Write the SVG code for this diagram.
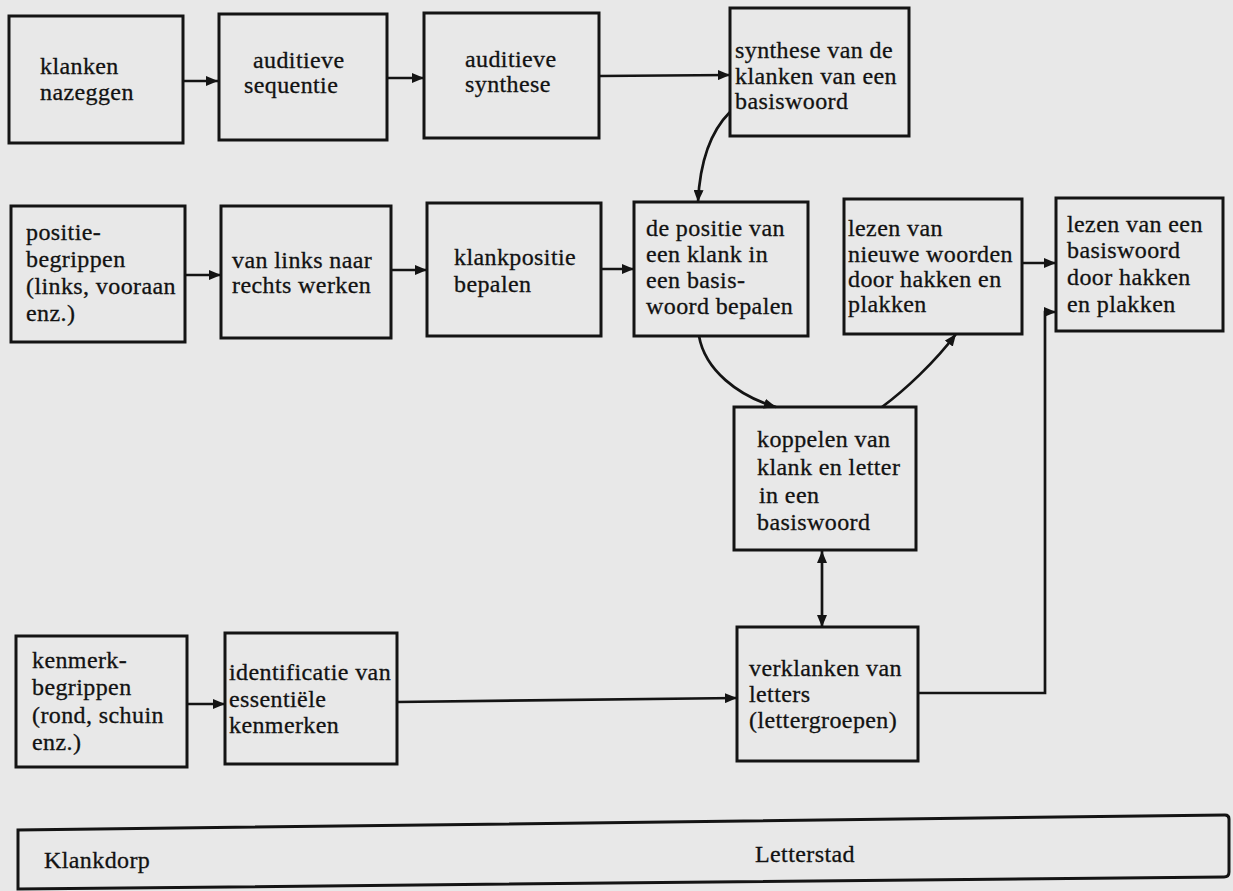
<svg xmlns="http://www.w3.org/2000/svg" width="1233" height="891" viewBox="0 0 1233 891">
<style>
.bx{fill:none;stroke:#141414;stroke-width:3}
.ln{fill:none;stroke:#141414;stroke-width:2.7}
.t{font-family:'Liberation Serif','DejaVu Serif',serif;font-size:24px;fill:#121212;stroke:#121212;stroke-width:0.3;letter-spacing:0.4px}
</style>
<defs>
<marker id="ah" markerUnits="userSpaceOnUse" markerWidth="12" markerHeight="10" refX="12" refY="5" orient="auto-start-reverse">
<path d="M0,0 L12,5 L0,10 z" fill="#141414"/>
</marker>
</defs>
<rect x="0" y="0" width="1233" height="891" fill="#e8e8e8"/>

<g id="connectors">
<path class="ln" d="M183,81 L218,81" marker-end="url(#ah)"/>
<path class="ln" d="M387,78 L424,78" marker-end="url(#ah)"/>
<path class="ln" d="M599,76 L730,75" marker-end="url(#ah)"/>
<path class="ln" d="M730,112 C712,130 700,160 698,202" marker-end="url(#ah)"/>
<path class="ln" d="M185,275 L221,275" marker-end="url(#ah)"/>
<path class="ln" d="M391,270 L427,270" marker-end="url(#ah)"/>
<path class="ln" d="M601,269 L634,269" marker-end="url(#ah)"/>
<path class="ln" d="M1022,263 L1056,263" marker-end="url(#ah)"/>
<path class="ln" d="M699,336 C705,370 738,396 776,407" marker-end="url(#ah)"/>
<path class="ln" d="M882,407 C905,390 935,362 956,334" marker-end="url(#ah)"/>
<path class="ln" d="M822,551 L822,627" marker-start="url(#ah)" marker-end="url(#ah)"/>
<path class="ln" d="M918,693 L1045,693 L1045,312 L1056,312" marker-end="url(#ah)"/>
<path class="ln" d="M187,704 L225,704" marker-end="url(#ah)"/>
<path class="ln" d="M397,702 L737,698" marker-end="url(#ah)"/>
</g>

<g class="t" font-family="Liberation Serif, DejaVu Serif, serif">
<g id="n1"><rect class="bx" x="9" y="16" width="174" height="127"/>
<text x="40" y="74">klanken</text><text x="40" y="100">nazeggen</text></g>
<g id="n2"><rect class="bx" x="219" y="14" width="168" height="126"/>
<text x="253" y="68">auditieve</text><text x="244" y="93">sequentie</text></g>
<g id="n3"><rect class="bx" x="424" y="13" width="175" height="125"/>
<text x="465" y="67">auditieve</text><text x="465" y="92">synthese</text></g>
<g id="n4"><rect class="bx" x="730" y="8" width="179" height="128"/>
<text x="735" y="58">synthese van de</text><text x="735" y="84">klanken van een</text><text x="735" y="109">basiswoord</text></g>

<g id="n5"><rect class="bx" x="11" y="206" width="174" height="136"/>
<text x="26" y="240">positie-</text><text x="26" y="267">begrippen</text><text x="26" y="294">(links, vooraan</text><text x="26" y="321">enz.)</text></g>
<g id="n6"><rect class="bx" x="221" y="206" width="170" height="132"/>
<text x="232" y="268">van links naar</text><text x="232" y="293">rechts werken</text></g>
<g id="n7"><rect class="bx" x="427" y="203" width="174" height="133"/>
<text x="454" y="265">klankpositie</text><text x="454" y="292">bepalen</text></g>
<g id="n8"><rect class="bx" x="634" y="202" width="174" height="134"/>
<text x="646" y="236">de positie van</text><text x="646" y="262">een klank in</text><text x="646" y="288">een basis-</text><text x="646" y="314">woord bepalen</text></g>
<g id="n9"><rect class="bx" x="844" y="199" width="178" height="135"/>
<text x="848" y="236">lezen van</text><text x="848" y="262">nieuwe woorden</text><text x="848" y="287">door hakken en</text><text x="848" y="312">plakken</text></g>
<g id="n10"><rect class="bx" x="1056" y="198" width="167" height="133"/>
<text x="1067" y="232">lezen van een</text><text x="1067" y="258">basiswoord</text><text x="1067" y="285">door hakken</text><text x="1067" y="312">en plakken</text></g>

<g id="n11"><rect class="bx" x="734" y="407" width="182" height="143"/>
<text x="757" y="447">koppelen van</text><text x="757" y="475">klank en letter</text><text x="759" y="503">in een</text><text x="757" y="530">basiswoord</text></g>
<g id="n12"><rect class="bx" x="737" y="627" width="181" height="134"/>
<text x="749" y="676">verklanken van</text><text x="749" y="702">letters</text><text x="749" y="728">(lettergroepen)</text></g>

<g id="n13"><rect class="bx" x="16" y="636" width="171" height="131"/>
<text x="32" y="668">kenmerk-</text><text x="32" y="695">begrippen</text><text x="32" y="723">(rond, schuin</text><text x="32" y="750">enz.)</text></g>
<g id="n14"><rect class="bx" x="225" y="633" width="172" height="131"/>
<text x="229" y="680">identificatie van</text><text x="229" y="707">essentiële</text><text x="229" y="733">kenmerken</text></g>

<g id="bar">
<path class="bx" d="M18,889 L18,830 L1225,815 Q1229,815 1229,819 L1229,872 Q1229,877 1224,877 Z"/>
<text x="44" y="868">Klankdorp</text>
<text x="755" y="862">Letterstad</text>
</g>
</g>
</svg>
